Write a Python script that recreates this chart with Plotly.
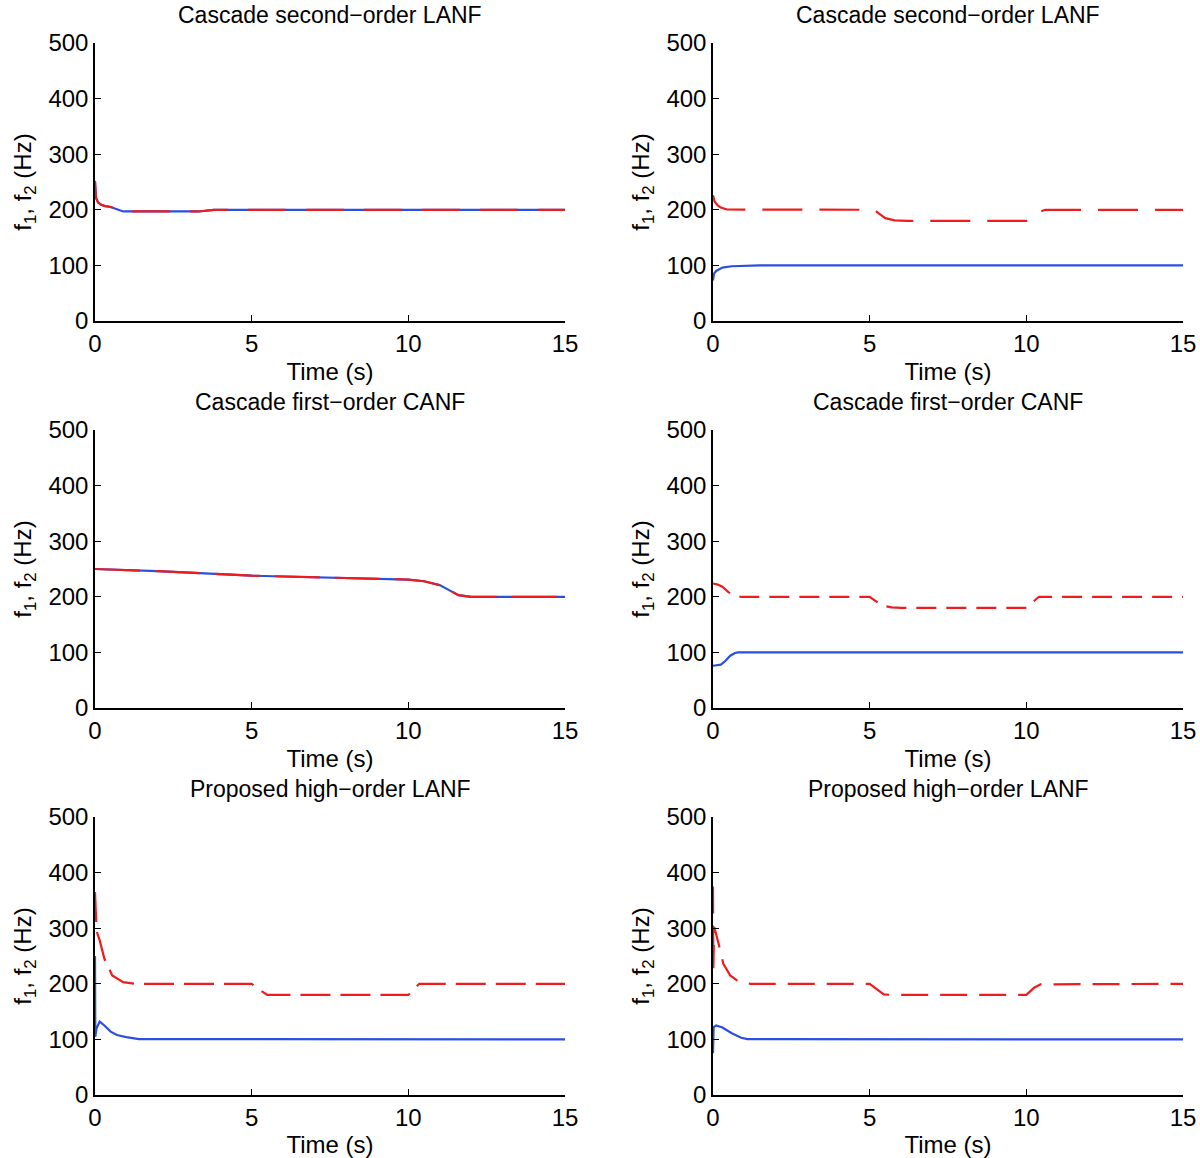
import plotly.graph_objects as go
from plotly.subplots import make_subplots

# ---- data (time in s, frequency in Hz) ----
# (a) cascade second-order LANF, two equal frequencies
t_a1 = [0, 0.03, 0.1, 0.2, 0.3, 0.5, 0.7, 0.9, 3.3, 3.6, 3.8, 15]
f1_a = [250, 222, 213, 209, 207, 205, 201, 197, 197, 199, 200, 200]
t_a2 = [0, 0.03, 0.1, 0.2, 0.3, 0.5, 0.7, 0.9, 3.3, 3.6, 3.8, 15]
f2_a = [252, 222, 213, 209, 207, 205, 201, 197, 197, 199, 200, 200]

# (b) cascade second-order LANF, two different frequencies
t_b1 = [0, 0.03, 0.1, 0.3, 0.6, 1.0, 1.5, 15]
f1_b = [73, 85, 90, 96, 98.5, 99.6, 100, 100]
t_b2 = [0, 0.05, 0.15, 0.25, 0.45, 5.15, 5.3, 5.5, 5.8, 6.2, 10.0, 10.2, 10.4, 10.6, 15]
f2_b = [226, 215, 208, 204, 200.5, 200, 193, 185, 181, 180, 180, 187, 196, 200, 200]

# (c) cascade first-order CANF, two equal frequencies
t_c1 = [0, 2, 5, 8, 10, 10.5, 11, 11.3, 11.6, 12, 15]
f1_c = [250, 246, 238, 234, 231, 228, 221, 212, 203, 200, 200]
t_c2 = [0, 2, 5, 8, 10, 10.5, 11, 11.3, 11.6, 12, 15]
f2_c = [250, 246, 238, 234, 231, 228, 221, 212, 203, 200, 200]

# (d) cascade first-order CANF, two different frequencies
t_d1 = [0, 0.1, 0.25, 0.4, 0.55, 0.7, 0.8, 15]
f1_d = [76, 76.5, 78, 85, 94, 99, 100, 100]
t_d2 = [0, 0.15, 0.3, 0.5, 0.7, 0.9, 5.0, 5.2, 5.4, 5.7, 6.0, 10.0, 10.2, 10.4, 15]
f2_d = [224, 222, 218, 208, 202, 200, 200, 192, 184, 181, 180, 180, 190, 200, 200]

# (e) proposed high-order LANF, left column
t_e1 = [0, 0.01, 0.05, 0.15, 0.3, 0.5, 0.7, 1.0, 1.4, 15]
f1_e = [250, 105, 120, 132, 125, 114, 108, 104, 100.5, 100]
t_e2 = [0, 0.02, 0.05, 0.15, 0.3, 0.55, 0.9, 1.3, 5.0, 5.2, 5.5, 10.0, 10.35, 15]
f2_e = [365, 315, 295, 278, 245, 215, 203, 200, 200, 191, 180, 180, 200, 200]

# (f) proposed high-order LANF, right column
t_f1 = [0, 0.02, 0.1, 0.3, 0.6, 0.9, 1.1, 15]
f1_f = [75, 122, 125, 121.5, 111, 103, 100.5, 100]
t_f2 = [0, 0.01, 0.04, 0.1, 0.18, 0.33, 0.55, 0.85, 1.2, 5.0, 5.2, 5.45, 5.7, 10.0, 10.25, 10.45, 15]
f2_f = [375, 228, 302, 290, 272, 236, 215, 203, 200, 200, 192, 181, 180, 180, 193, 199, 200]

titles = ["Cascade second\u2212order LANF", "Cascade second\u2212order LANF",
          "Cascade first\u2212order CANF", "Cascade first\u2212order CANF",
          "Proposed high\u2212order LANF", "Proposed high\u2212order LANF"]

panels = [(t_a1, f1_a, t_a2, f2_a, "38px,20px"),
          (t_b1, f1_b, t_b2, f2_b, "40px,17px"),
          (t_c1, f1_c, t_c2, f2_c, "45px,15px"),
          (t_d1, f1_d, t_d2, f2_d, "20px,10px"),
          (t_e1, f1_e, t_e2, f2_e, "30px,10px"),
          (t_f1, f1_f, t_f2, f2_f, "27px,12px")]

W, H = 1200, 1158
col_px = [(95, 565), (713, 1183)]
row_px = [(43, 321), (430, 708), (817, 1095)]
FONT = "Liberation Sans, Arial, Helvetica, sans-serif"
BLUE = "#2b4fe0"
RED = "#ee1c1c"

fig = make_subplots(rows=3, cols=2)

for i, (tb, fb, tr, fr, dash) in enumerate(panels):
    r, c = i // 2 + 1, i % 2 + 1
    fig.add_trace(go.Scatter(x=tb, y=fb, mode="lines",
                             line=dict(color=BLUE, width=2.2)), row=r, col=c)
    fig.add_trace(go.Scatter(x=tr, y=fr, mode="lines",
                             line=dict(color=RED, width=2.2, dash=dash)), row=r, col=c)

    x0, x1 = col_px[c - 1]
    y0, y1 = row_px[r - 1]
    fig.update_xaxes(domain=[x0 / W, x1 / W], row=r, col=c)
    fig.update_yaxes(domain=[1 - y1 / H, 1 - y0 / H], row=r, col=c)

    fig.add_annotation(text=titles[i], xref="paper", yref="paper",
                       x=(x0 + x1) / 2 / W, y=1 - (y0 - 28) / H,
                       xanchor="center", yanchor="middle", showarrow=False,
                       font=dict(size=23, color="black", family=FONT))

fig.update_xaxes(range=[0, 15], tickvals=[0, 5, 10, 15], showline=True,
                 linecolor="black", linewidth=1.5, ticks="inside", ticklen=6,
                 tickcolor="black", showgrid=False, zeroline=False,
                 automargin=False,
                 tickfont=dict(size=24, color="black", family=FONT),
                 title=dict(text="Time (s)", standoff=8,
                            font=dict(size=24, color="black", family=FONT)))
fig.update_yaxes(range=[0, 500], tickvals=[0, 100, 200, 300, 400, 500],
                 showline=True, linecolor="black", linewidth=1.5,
                 ticks="inside", ticklen=6, tickcolor="black",
                 showgrid=False, zeroline=False, automargin=False,
                 tickfont=dict(size=24, color="black", family=FONT),
                 title=dict(text="f<sub>1</sub>, f<sub>2</sub> (Hz)", standoff=10,
                            font=dict(size=24, color="black", family=FONT)))

fig.update_layout(width=W, height=H, showlegend=False,
                  margin=dict(l=0, r=0, t=0, b=0),
                  paper_bgcolor="white", plot_bgcolor="white",
                  font=dict(family=FONT, color="black"))

# drop the page's default body margin so the figure sits at the window corner
fig.write_html("out.html",
               config={"displayModeBar": False},
               post_script="document.body.style.margin='0';"
                           "document.body.style.overflow='hidden';")
